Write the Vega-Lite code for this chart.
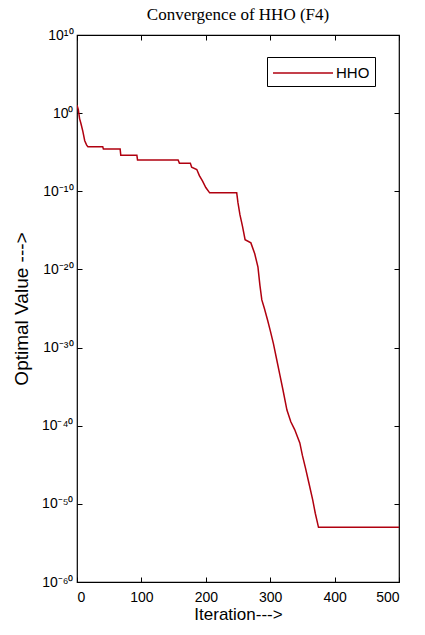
{
  "$schema": "https://vega.github.io/schema/vega-lite/v6.json",
  "autosize": "none",
  "padding": {"left": 77, "top": 35, "right": 26, "bottom": 53},
  "width": 322,
  "height": 547,
  "background": "white",
  "title": {"text": "Convergence of HHO (F4)", "font": "Liberation Serif", "fontSize": 17, "fontWeight": "normal", "color": "black", "offset": 4},
  "config": {
    "view": {"stroke": "black", "strokeWidth": 1.2},
    "axis": {"grid": false, "domain": false, "tickColor": "black", "tickSize": -5, "labelFont": "Liberation Sans", "labelFontSize": 14, "labelColor": "black", "titleFont": "Liberation Sans", "titleFontSize": 17, "titleFontWeight": "normal", "titleColor": "black"}
  },
  "data": {"values": [
    {"iter": 0, "value": 10, "series": "HHO"},
    {"iter": 2, "value": 3, "series": "HHO"},
    {"iter": 4, "value": 0.2, "series": "HHO"},
    {"iter": 6, "value": 0.05, "series": "HHO"},
    {"iter": 9, "value": 0.005, "series": "HHO"},
    {"iter": 12, "value": 3e-4, "series": "HHO"},
    {"iter": 15, "value": 8e-5, "series": "HHO"},
    {"iter": 17, "value": 5e-5, "series": "HHO"},
    {"iter": 40, "value": 5e-5, "series": "HHO"},
    {"iter": 41, "value": 2.5e-5, "series": "HHO"},
    {"iter": 67, "value": 2.5e-5, "series": "HHO"},
    {"iter": 68, "value": 4e-6, "series": "HHO"},
    {"iter": 93, "value": 4e-6, "series": "HHO"},
    {"iter": 94, "value": 1e-6, "series": "HHO"},
    {"iter": 157, "value": 1e-6, "series": "HHO"},
    {"iter": 159, "value": 4e-7, "series": "HHO"},
    {"iter": 176, "value": 4e-7, "series": "HHO"},
    {"iter": 178, "value": 1.2e-7, "series": "HHO"},
    {"iter": 186, "value": 6e-8, "series": "HHO"},
    {"iter": 190, "value": 1e-8, "series": "HHO"},
    {"iter": 195, "value": 2e-9, "series": "HHO"},
    {"iter": 200, "value": 3e-10, "series": "HHO"},
    {"iter": 206, "value": 6.3e-11, "series": "HHO"},
    {"iter": 248, "value": 6.3e-11, "series": "HHO"},
    {"iter": 250, "value": 3.2e-12, "series": "HHO"},
    {"iter": 253, "value": 1e-13, "series": "HHO"},
    {"iter": 257, "value": 3.2e-15, "series": "HHO"},
    {"iter": 261, "value": 6.3e-17, "series": "HHO"},
    {"iter": 270, "value": 2.5e-17, "series": "HHO"},
    {"iter": 276, "value": 1e-18, "series": "HHO"},
    {"iter": 281, "value": 2e-20, "series": "HHO"},
    {"iter": 284, "value": 1e-22, "series": "HHO"},
    {"iter": 287, "value": 1.26e-24, "series": "HHO"},
    {"iter": 291, "value": 1e-25, "series": "HHO"},
    {"iter": 296, "value": 3.2e-27, "series": "HHO"},
    {"iter": 300, "value": 1.6e-28, "series": "HHO"},
    {"iter": 305, "value": 3.2e-30, "series": "HHO"},
    {"iter": 310, "value": 3.2e-32, "series": "HHO"},
    {"iter": 315, "value": 3.2e-34, "series": "HHO"},
    {"iter": 320, "value": 3.2e-36, "series": "HHO"},
    {"iter": 326, "value": 1e-38, "series": "HHO"},
    {"iter": 332, "value": 3.2e-40, "series": "HHO"},
    {"iter": 338, "value": 3.2e-41, "series": "HHO"},
    {"iter": 346, "value": 6.3e-43, "series": "HHO"},
    {"iter": 350, "value": 1.6e-44, "series": "HHO"},
    {"iter": 355, "value": 3.2e-46, "series": "HHO"},
    {"iter": 360, "value": 5e-48, "series": "HHO"},
    {"iter": 366, "value": 3.2e-50, "series": "HHO"},
    {"iter": 370, "value": 6.3e-52, "series": "HHO"},
    {"iter": 375, "value": 1e-53, "series": "HHO"},
    {"iter": 500, "value": 1e-53, "series": "HHO"}
  ]},
  "layer": [
    {
      "mark": {"type": "line", "strokeWidth": 1.5, "clip": true},
      "encoding": {
        "x": {"field": "iter", "type": "quantitative", "scale": {"domain": [0, 500], "nice": false}, "axis": {"values": [0, 100, 200, 300, 400, 500], "title": "Iteration--->", "labelPadding": 13, "titlePadding": 2}},
        "y": {"field": "value", "type": "quantitative", "scale": {"type": "log", "domain": [1e-60, 1e10], "nice": false}, "axis": {"values": [1e10, 1, 1e-10, 1e-20, 1e-30, 1e-40, 1e-50, 1e-60], "labelExpr": "'10' + ['⁻⁶⁰','⁻⁵⁰','⁻⁴⁰','⁻³⁰','⁻²⁰','⁻¹⁰','⁰','¹⁰'][round(log(datum.value)/LN10/10)+6]", "title": "Optimal Value --->", "titleFontSize": 19, "labelPadding": 9, "titlePadding": 10}},
        "color": {"field": "series", "type": "nominal", "scale": {"range": ["#b0000f"]}, "legend": {"orient": "none", "legendX": 190, "legendY": 22, "title": null, "symbolType": "M-3,0L3,0", "symbolSize": 400, "symbolOffset": 20, "symbolStrokeWidth": 1.5, "labelFont": "Liberation Sans", "labelFontSize": 15, "labelColor": "black", "strokeColor": "black", "fillColor": "white", "padding": 5, "cornerRadius": 0, "labelOffset": 22}}
      }
    },
    {
      "mark": {"type": "line", "opacity": 0},
      "encoding": {
        "x": {"field": "iter", "type": "quantitative", "scale": {"domain": [0, 500], "nice": false}, "axis": {"orient": "top", "values": [0, 100, 200, 300, 400, 500], "labels": false, "title": null}},
        "y": {"field": "value", "type": "quantitative", "scale": {"type": "log", "domain": [1e-60, 1e10], "nice": false}, "axis": {"orient": "right", "values": [1e10, 1, 1e-10, 1e-20, 1e-30, 1e-40, 1e-50, 1e-60], "labels": false, "title": null}}
      }
    }
  ],
  "resolve": {"axis": {"x": "independent", "y": "independent"}}
}
